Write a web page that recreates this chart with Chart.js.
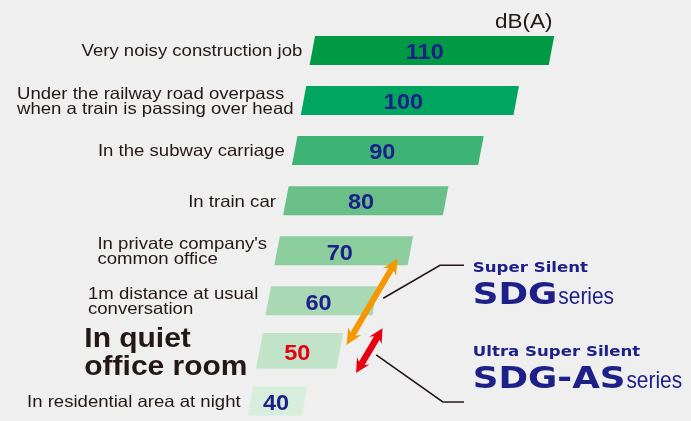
<!DOCTYPE html>
<html>
<head>
<meta charset="utf-8">
<script src="https://cdn.jsdelivr.net/npm/chart.js@4/dist/chart.umd.min.js"></script>
<style>
    html, body { margin: 0; padding: 0; background: #efefef; overflow: hidden; }
    #wrap { width: 691px; height: 426px; }
</style>
</head>
<body>
<div id="wrap"><canvas id="chart-noise" width="691" height="426"></canvas></div>
<script>
// Situations, top to bottom (each entry = the lines of its label)
const places = [
    ['Very noisy construction job'],
    ['Under the railway road overpass', 'when a train is passing over head'],
    ['In the subway carriage'],
    ['In train car'],
    ["In private company's", 'common office'],
    ['1m distance at usual', 'conversation'],
    ['In quiet', 'office room'],
    ['In residential area at night']
];
const levels = [110, 100, 90, 80, 70, 60, 50, 40];
const barColors = ['#009a44', '#00a65f', '#3db475', '#69bf87', '#8bcd9d', '#a8d9b4', '#c1e4c9', '#d7eedc'];
const quietRow = 6;
const unitLabel = 'dB(A)';

// Generator annotations: arrows and leader lines given as [dB, row] points
const sdgArrow = [[66.4, 4.15], [51.9, 5.88]];
const sdgAsArrow = [[62.1, 5.55], [54.6, 6.44]];
const sdgLeader = [[62.3, 4.95], [78.4, 4.29], [85.2, 4.29]];
const sdgAsLeader = [[60.3, 6.08], [79.2, 7.02], [85.2, 7.02]];
const notes = [
    { small: 'Super Silent', big: 'SDG', at: [87.7, 4.31] },
    { small: 'Ultra Super Silent', big: 'SDG-AS', at: [87.7, 5.99] }
];

(function () {
    const NAVY = '#1d2088';
    const INK = '#231815';
    // each bar starts a bit further left than the one above it (the staggered look of the original)
    const FLOOR = 42.2;
    const FLOOR_STEP = 2.5;

    function drawText(ctx, text, x, y, font, color, align, sx) {
        ctx.save();
        ctx.font = font;
        ctx.fillStyle = color;
        ctx.textAlign = align;
        ctx.textBaseline = 'alphabetic';
        ctx.translate(x, y);
        ctx.scale(sx, 1);
        ctx.fillText(text, 0, 0);
        ctx.restore();
    }

    function textWidth(ctx, text, font, sx) {
        ctx.save();
        ctx.font = font;
        const w = ctx.measureText(text).width * sx;
        ctx.restore();
        return w;
    }

    function arrow(ctx, a, b, color, w, hl, hw) {
        const dx = b[0] - a[0], dy = b[1] - a[1];
        const len = Math.hypot(dx, dy);
        const ux = dx / len, uy = dy / len;
        const nx = -uy, ny = ux;
        const pt = function (p, along, side) {
            return [p[0] + ux * along + nx * side, p[1] + uy * along + ny * side];
        };
        const pts = [
            a,
            pt(a, hl, hw / 2), pt(a, hl * 0.8, w / 2),
            pt(b, -hl * 0.8, w / 2), pt(b, -hl, hw / 2),
            b,
            pt(b, -hl, -hw / 2), pt(b, -hl * 0.8, -w / 2),
            pt(a, hl * 0.8, -w / 2), pt(a, hl, -hw / 2)
        ];
        ctx.save();
        ctx.fillStyle = color;
        ctx.beginPath();
        pts.forEach(function (p, i) {
            if (i === 0) ctx.moveTo(p[0], p[1]); else ctx.lineTo(p[0], p[1]);
        });
        ctx.closePath();
        ctx.fill();
        ctx.restore();
    }

    const noisePlugin = {
        id: 'noiseScale',
        beforeDatasetDraw: function (chart, args) {
            const ctx = chart.ctx;
            args.meta.data.forEach(function (bar, i) {
                const p = bar.getProps(['x', 'y', 'base', 'height'], true);
                const h = p.height * (i === quietRow ? 1.23 : 1);
                const s = h * 0.095;
                ctx.fillStyle = barColors[i];
                ctx.beginPath();
                ctx.moveTo(p.base + s, p.y - h / 2);
                ctx.lineTo(p.x + s, p.y - h / 2);
                ctx.lineTo(p.x - s, p.y + h / 2);
                ctx.lineTo(p.base - s, p.y + h / 2);
                ctx.closePath();
                ctx.fill();
            });
            return false;
        },
        afterDatasetsDraw: function (chart) {
            const ctx = chart.ctx;
            const xs = chart.scales.x, ys = chart.scales.y;
            const px = function (p) { return [xs.getPixelForValue(p[0]), ys.getPixelForValue(p[1])]; };
            const meta = chart.getDatasetMeta(0);

            meta.data.forEach(function (bar, i) {
                const p = bar.getProps(['x', 'y', 'base'], true);
                // value inside the bar
                const vx = p.base + (p.x - p.base) * 0.47;
                drawText(ctx, String(levels[i]), vx, p.y + 8.8, 'bold 22px "Liberation Sans", Arial, sans-serif',
                    i === quietRow ? '#e60012' : NAVY, 'center', 1.07);

                // label on the left
                const big = i === quietRow;
                const font = big ? 'bold 28px "Liberation Sans", Arial, sans-serif' : '16.5px "Liberation Sans", Arial, sans-serif';
                const sx = big ? 1.07 : 1.125;
                const pitch = big ? 28.4 : 15.5;
                const cap = big ? 20 : 11.8;
                const gap = big ? 12 : 10;
                const lines = places[i];
                let wMax = 0;
                lines.forEach(function (t) { wMax = Math.max(wMax, textWidth(ctx, t, font, sx)); });
                const left = p.base - gap - wMax;
                lines.forEach(function (t, k) {
                    const cy = p.y + (k - (lines.length - 1) / 2) * pitch;
                    drawText(ctx, t, left, cy + cap / 2, font, INK, 'left', sx);
                });
            });

            // unit above the longest bar
            const top = meta.data[0].getProps(['x', 'y', 'height'], true);
            drawText(ctx, unitLabel, top.x + 1, top.y - top.height / 2 - 8, '20px "Liberation Sans", Arial, sans-serif', INK, 'right', 1.125);

            // leader lines
            ctx.save();
            ctx.strokeStyle = INK;
            ctx.lineWidth = 1.6;
            [sdgLeader, sdgAsLeader].forEach(function (line) {
                ctx.beginPath();
                line.forEach(function (pt, k) {
                    const q = px(pt);
                    if (k === 0) ctx.moveTo(q[0], q[1]); else ctx.lineTo(q[0], q[1]);
                });
                ctx.stroke();
            });
            ctx.restore();

            arrow(ctx, px(sdgArrow[0]), px(sdgArrow[1]), '#f39800', 6, 16, 15);
            arrow(ctx, px(sdgAsArrow[0]), px(sdgAsArrow[1]), '#e60012', 6.5, 14, 14.5);

            notes.forEach(function (n) {
                const q = px(n.at);
                drawText(ctx, n.small, q[0], q[1] + 5.4, 'bold 14.7px "DejaVu Sans", sans-serif', NAVY, 'left', 1.13);
                const baseY = q[1] + 38;
                drawText(ctx, n.big, q[0], baseY, 'bold 31px "DejaVu Sans", sans-serif', NAVY, 'left', 1.15);
                const bw = textWidth(ctx, n.big, 'bold 31px "DejaVu Sans", sans-serif', 1.15);
                drawText(ctx, 'series', q[0] + bw + 1, baseY, '24px "Liberation Sans", Arial, sans-serif', NAVY, 'left', 0.87);
            });
        }
    };

    const canvas = document.getElementById('chart-noise');
    new Chart(canvas.getContext('2d'), {
        type: 'bar',
        data: {
            labels: places,
            datasets: [{
                label: 'Noise level (dB(A))',
                data: levels.map(function (v, i) { return [FLOOR - FLOOR_STEP * i, v]; }),
                backgroundColor: barColors,
                barThickness: 29
            }]
        },
        options: {
            indexAxis: 'y',
            responsive: false,
            animation: false,
            devicePixelRatio: 1,
            layout: { padding: { left: 163.5, right: 33.7, top: 25.4, bottom: 0 } },
            scales: {
                x: { type: 'linear', min: 0, max: 140, display: false },
                y: { display: false }
            },
            plugins: {
                legend: { display: false },
                tooltip: { enabled: false }
            }
        },
        plugins: [noisePlugin]
    });
})();
</script>
</body>
</html>
